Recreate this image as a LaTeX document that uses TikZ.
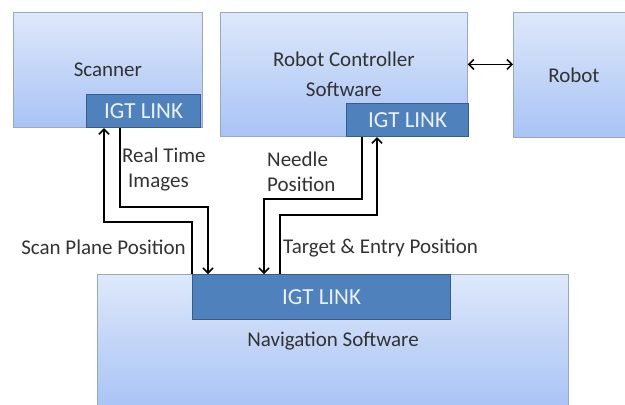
\documentclass[tikz,border=0pt]{standalone}
\usepackage{fontspec}
\setmainfont{Carlito}
\usetikzlibrary{arrows.meta}
\definecolor{boxtop}{RGB}{222,232,250}
\definecolor{boxbot}{RGB}{168,195,245}
\definecolor{boxline}{RGB}{150,168,198}
\definecolor{linkblue}{RGB}{79,129,189}
\definecolor{linkline}{RGB}{56,93,140}
\definecolor{linktext}{RGB}{235,241,250}
\definecolor{txt}{RGB}{50,50,50}
\newcommand{\diagfont}{\fontsize{21}{25}\selectfont}
\newcommand{\linkfont}{\fontsize{23}{27}\selectfont}

\begin{document}
\begin{tikzpicture}[x=1pt, y=-1pt,
  box/.style={draw=boxline, line width=0.8pt, top color=boxtop, bottom color=boxbot,
    inner sep=0pt, anchor=north west, text=txt, font=\diagfont, align=center},
  link/.style={draw=linkline, line width=1.2pt, fill=linkblue, text=linktext,
    inner sep=0pt, anchor=north west, font=\linkfont},
  lbl/.style={text=txt, inner sep=0pt, font=\diagfont},
  flow/.style={line width=1.5pt, -{Straight Barb[length=5pt,width=10pt]}}]

\useasboundingbox (0,0) rectangle (625,405);
\clip (0,0) rectangle (625,405);

% boxes
\node[box, minimum width=189pt, minimum height=115pt] (scanner) at (13,12) {Scanner};
\node[box, minimum width=247pt, minimum height=124pt] (rc) at (220,12) {Robot Controller\\[5pt]Software};
\node[box, minimum width=121pt, minimum height=125pt] (robot) at (513,12) {Robot};
\node[box, minimum width=471pt, minimum height=135pt] (nav) at (97,274) {};

% IGT links
\node[link, minimum width=114pt, minimum height=33pt] (scanlink) at (86,94) {IGT LINK};
\node[link, minimum width=122pt, minimum height=33pt] (roblink) at (346,103) {IGT LINK};
\node[link, minimum width=258pt, minimum height=45pt] (navlink) at (192,274) {IGT LINK};
\node[lbl] (navtext) at (333,341) {Navigation Software};

% connectors
\draw[line width=1.5pt, {Straight Barb[length=5pt,width=10pt]}-{Straight Barb[length=5pt,width=10pt]}]
  ([yshift=10pt]rc.east) -- ([yshift=10pt]rc.east -| robot.west);
\draw[flow] (navlink.north west) -- ++(0,-52) -| ([xshift=18pt]scanlink.south west);
\draw[flow] ([xshift=34pt]scanlink.south west) -- ++(0,79) -| ([xshift=16pt]navlink.north west);
\draw[flow] ([xshift=16pt]roblink.south west) -- ++(0,62) -| ([xshift=72pt]navlink.north west);
\draw[flow] ([xshift=88pt]navlink.north west) -- ++(0,-59) -| ([xshift=31pt]roblink.south west);

% labels
\node[lbl, anchor=north west, align=left] (rtlabel) at (122,148) {Real Time\\\hspace*{6pt}Images};
\node[lbl, anchor=north west, align=left] (ndlabel) at (267,152) {Needle\\Position};
\node[lbl, anchor=base east] (splabel) at (186,254) {Scan Plane Position};
\node[lbl, anchor=base west] (telabel) at (283,253) {Target \& Entry Position};

\end{tikzpicture}
\end{document}
